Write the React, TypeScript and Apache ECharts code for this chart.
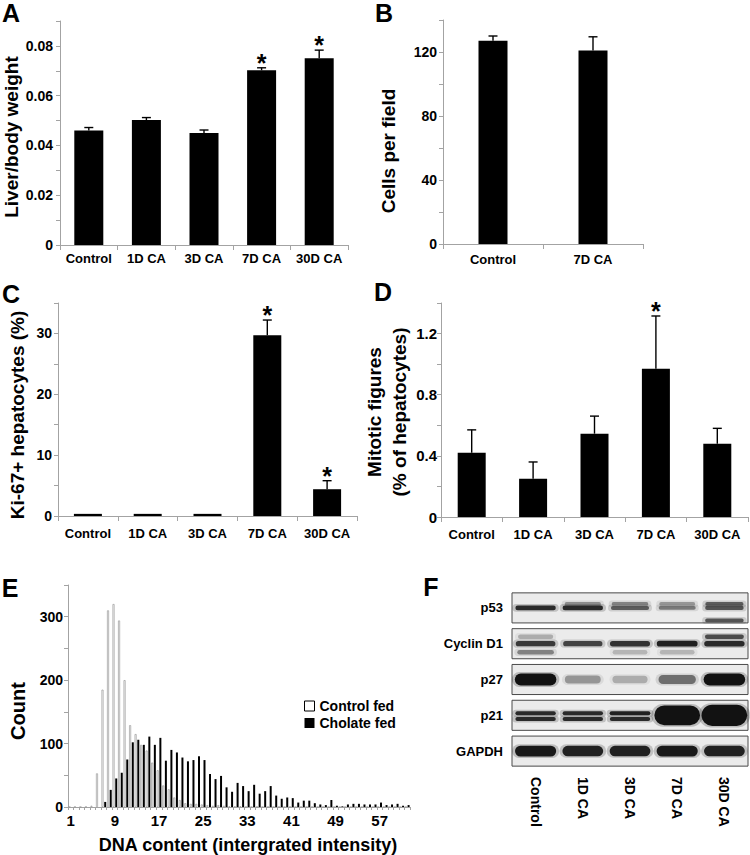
import React, { useEffect, useRef } from 'react';
import * as echarts from 'echarts';

// ---------- Panel A: liver / body weight ----------
const groupsA = ['Control', '1D CA', '3D CA', '7D CA', '30D CA'];
const liverBodyMean = [0.046, 0.0502, 0.045, 0.0702, 0.075];
const liverBodySem = [0.0012, 0.001, 0.0012, 0.001, 0.0033];
const liverBodySig = [0, 0, 0, 1, 1];

// ---------- Panel B: cells per field ----------
const groupsB = ['Control', '7D CA'];
const cellsMean = [127, 121];
const cellsSem = [3, 8.5];

// ---------- Panel C: Ki-67+ hepatocytes ----------
const ki67Mean = [0.35, 0.35, 0.35, 29.7, 4.4];
const ki67Sem = [0, 0, 0, 2.5, 1.4];
const ki67Sig = [0, 0, 0, 1, 1];

// ---------- Panel D: mitotic figures ----------
const mitoticMean = [0.42, 0.25, 0.545, 0.97, 0.48];
const mitoticSem = [0.15, 0.11, 0.115, 0.345, 0.1];
const mitoticSig = [0, 0, 0, 1, 0];

// ---------- Panel E: DNA content histogram ----------
const dnaBins = [
  '1', '2', '3', '4', '5', '6', '7', '8', '9', '10', '11', '12', '13', '14', '15', '16',
  '17', '18', '19', '20', '21', '22', '23', '24', '25', '26', '27', '28', '29', '30', '31',
  '32', '33', '34', '35', '36', '37', '38', '39', '40', '41', '42', '43', '44', '45', '46',
  '47', '48', '49', '50', '51', '52', '53', '54', '55', '56', '57', '58', '59', '60', '61', '62',
];
const controlFed = [
  0, 0, 0, 0, 2, 53, 185, 310, 320, 294, 200, 129, 115, 98, 89, 70, 58, 34, 28, 15, 11,
  6, 5, 5, 4, 3, 2, 3, 2, 1, 1, 1, 0, 0, 0, 0, 0, 0, 0, 0, 0, 0, 0, 0, 0, 0,
  0, 0, 0, 0, 0, 0, 0, 0, 0, 0, 0, 0, 0, 0, 0, 0,
];
const cholateFed = [
  0, 0, 0, 0, 0, 0, 8, 27, 45, 54, 75, 102, 106, 98, 111, 98, 109, 73, 90, 86, 78,
  72, 74, 80, 74, 52, 44, 49, 31, 24, 38, 33, 25, 35, 21, 25, 33, 18, 13, 15, 14,
  7, 10, 10, 6, 4, 3, 11, 2, 1, 4, 5, 5, 4, 4, 4, 7, 3, 4, 5, 2, 3,
];

// ---------- Panel F: western blot (relative band signal, 0..1, >1 = saturated) ----------
const blotProteins = ['p53', 'Cyclin D1', 'p27', 'p21', 'GAPDH'];
const blotLanes = ['Control', '1D CA', '3D CA', '7D CA', '30D CA'];
const bandMain = [
  [0.85, 0.85, 0.55, 0.4, 0.6],
  [0.75, 0.7, 0.8, 0.9, 0.85],
  [1.0, 0.25, 0.15, 0.45, 1.0],
  [0, 0, 0, 4.4, 4.7],
  [0.95, 0.9, 0.9, 0.95, 0.9],
];
const bandUpper = [
  [0, 0.3, 0.35, 0.25, 0.55],
  [0.15, 0, 0, 0, 0.65],
  [0, 0, 0, 0, 0],
  [0.85, 0.85, 0.9, 0, 0],
  [0, 0, 0, 0, 0],
];
const bandLower = [
  [0, 0, 0, 0, 0.6],
  [0.35, 0, 0.1, 0.1, 0],
  [0, 0, 0, 0, 0],
  [0.85, 0.85, 0.85, 0, 0],
  [0, 0, 0, 0, 0],
];

// ---------- styles ----------
const FONT = '"Liberation Sans", Arial, Helvetica, sans-serif';
const AXIS_GRAY = '#a3a3a3';
const bandBaseH = [5, 6, 12, 4.5, 11];
const bandUpperOff = [-4, -7, 0, -2, 0];
const bandLowerOff = [12.5, 8.5, 0, 3.8, 0];

function catAxis(gridIndex: number, data: string[], margin: number) {
  return {
    type: 'category',
    gridIndex,
    data,
    axisLine: { show: true, lineStyle: { color: AXIS_GRAY, width: 1 } },
    axisTick: { show: true, length: 5, lineStyle: { color: AXIS_GRAY } },
    axisLabel: {
      color: '#000', fontWeight: 'bold', fontSize: 13, fontFamily: FONT, margin, interval: 0,
    },
    splitLine: { show: false },
  };
}

function valAxis(gridIndex: number, max: number, interval: number, every: number, decimals: number, fontSize: number, margin: number) {
  return {
    type: 'value',
    gridIndex,
    min: 0,
    max,
    interval,
    axisLine: { show: true, lineStyle: { color: AXIS_GRAY, width: 1 } },
    axisTick: { show: true, length: 4, lineStyle: { color: AXIS_GRAY } },
    splitLine: { show: false },
    axisLabel: {
      color: '#000', fontWeight: 'bold', fontSize, fontFamily: FONT, margin,
      formatter: (v: number) => {
        const k = Math.round(v / interval);
        if (k % every !== 0) return '';
        return k === 0 ? '0' : (k * interval).toFixed(decimals);
      },
    },
  };
}

function barSeries(idx: number, data: number[], barWidth: number) {
  return {
    type: 'bar', xAxisIndex: idx, yAxisIndex: idx, data, barWidth,
    itemStyle: { color: '#000' }, silent: true, z: 2,
  };
}

function errSeries(idx: number, means: number[], sems: number[], sig: number[]) {
  return {
    type: 'custom', xAxisIndex: idx, yAxisIndex: idx, silent: true, z: 3,
    encode: { x: 0, y: [1, 2] },
    data: means.map((m, i) => [i, m, m + sems[i], sig[i]]),
    renderItem: (_p: any, api: any) => {
      const x = api.value(0);
      const p0 = api.coord([x, api.value(1)]);
      const p1 = api.coord([x, api.value(2)]);
      const children: any[] = [];
      if (api.value(2) > api.value(1)) {
        children.push({ type: 'line', shape: { x1: p0[0], y1: p0[1], x2: p1[0], y2: p1[1] }, style: { stroke: '#000', lineWidth: 1.4 } });
        children.push({ type: 'line', shape: { x1: p1[0] - 4.5, y1: p1[1], x2: p1[0] + 4.5, y2: p1[1] }, style: { stroke: '#000', lineWidth: 1.4 } });
      }
      if (api.value(3)) {
        children.push({
          type: 'text', x: p1[0], y: p1[1] - 5,
          style: { text: '*', fontSize: 25, fontWeight: 'bold', fontFamily: FONT, fill: '#000', align: 'center', verticalAlign: 'middle' },
        });
      }
      return { type: 'group', children };
    },
  };
}

function txt(text: string, x: number, y: number, fontSize: number, rotation = 0, align = 'center') {
  return {
    type: 'text', x, y, rotation, silent: true,
    style: { text, fontSize, fontWeight: 'bold', fontFamily: FONT, fill: '#000', align, verticalAlign: 'middle' },
  };
}

function buildOption() {
  const R = Math.PI / 2;
  const bandData: number[][] = [];
  blotProteins.forEach((_, i) => {
    blotLanes.forEach((__, j) => {
      bandData.push([j, i, bandMain[i][j], bandUpper[i][j], bandLower[i][j]]);
    });
  });

  return {
    animation: false,
    backgroundColor: '#fff',
    textStyle: { fontFamily: FONT },
    grid: [
      { left: 60, top: 21, width: 288, height: 224, containLabel: false, outerBoundsMode: 'none' },
      { left: 443, top: 20, width: 200, height: 224, containLabel: false, outerBoundsMode: 'none' },
      { left: 58, top: 303, width: 299, height: 213, containLabel: false, outerBoundsMode: 'none' },
      { left: 441, top: 303, width: 307, height: 214, containLabel: false, outerBoundsMode: 'none' },
      { left: 68, top: 585, width: 342, height: 222, containLabel: false, outerBoundsMode: 'none' },
      { left: 512, top: 590, width: 236, height: 179, containLabel: false, outerBoundsMode: 'none' },
    ],
    xAxis: [
      catAxis(0, groupsA, 7),
      catAxis(1, groupsB, 9),
      catAxis(2, groupsA, 11),
      catAxis(3, groupsA, 11),
      {
        type: 'category', gridIndex: 4, data: dnaBins,
        axisLine: { show: true, lineStyle: { color: AXIS_GRAY, width: 1 } },
        axisTick: { show: true, interval: 0, length: 3, lineStyle: { color: AXIS_GRAY } },
        axisLabel: { color: '#000', fontWeight: 'bold', fontSize: 15, fontFamily: FONT, margin: 6, interval: 7 },
        splitLine: { show: false },
      },
      {
        type: 'category', gridIndex: 5, data: blotLanes, position: 'bottom',
        axisLine: { show: false }, axisTick: { show: false }, splitLine: { show: false },
        axisLabel: { color: '#000', fontWeight: 'bold', fontSize: 14, fontFamily: FONT, margin: 8, interval: 0, rotate: -90 },
      },
    ],
    yAxis: [
      valAxis(0, 0.09, 0.01, 2, 2, 14, 7),
      valAxis(1, 140, 20, 2, 0, 14, 6),
      valAxis(2, 35, 5, 2, 0, 14, 6),
      valAxis(3, 1.4, 0.2, 2, 1, 15, 4),
      valAxis(4, 350, 50, 2, 0, 14, 5),
      {
        type: 'category', gridIndex: 5, data: blotProteins, inverse: true,
        axisLine: { show: false }, axisTick: { show: false }, splitLine: { show: false },
        axisLabel: { color: '#000', fontWeight: 'bold', fontSize: 13, fontFamily: FONT, margin: 9, interval: 0 },
      },
    ],
    legend: {
      data: [
        { name: 'Control fed', itemStyle: { color: '#fff', borderColor: '#000', borderWidth: 1 } },
        { name: 'Cholate fed', itemStyle: { color: '#000' } },
      ],
      orient: 'vertical', left: 299, top: 694, itemWidth: 10, itemHeight: 10, itemGap: 3,
      icon: 'rect', selectedMode: false,
      textStyle: { fontSize: 14, fontWeight: 'bold', fontFamily: FONT, color: '#000' },
    },
    series: [
      barSeries(0, liverBodyMean, 29),
      errSeries(0, liverBodyMean, liverBodySem, liverBodySig),
      barSeries(1, cellsMean, 29),
      errSeries(1, cellsMean, cellsSem, [0, 0]),
      barSeries(2, ki67Mean, 28),
      errSeries(2, ki67Mean, ki67Sem, ki67Sig),
      barSeries(3, mitoticMean, 28),
      errSeries(3, mitoticMean, mitoticSem, mitoticSig),
      {
        type: 'bar', name: 'Control fed', xAxisIndex: 4, yAxisIndex: 4, data: controlFed,
        barWidth: 2, barGap: '35%', silent: true,
        itemStyle: { color: '#fff', borderColor: '#9a9a9a', borderWidth: 0.7 },
      },
      {
        type: 'bar', name: 'Cholate fed', xAxisIndex: 4, yAxisIndex: 4, data: cholateFed,
        barWidth: 2, barGap: '35%', silent: true, itemStyle: { color: '#000' },
      },
      {
        type: 'custom', xAxisIndex: 5, yAxisIndex: 5, silent: true, z: 1,
        data: blotProteins.map((_, i) => [0, i]),
        renderItem: (_p: any, api: any) => {
          const c = api.coord([0, api.value(1)]);
          const sz = api.size([1, 1]);
          const laneW = Math.abs(sz[0]);
          const h = Math.abs(sz[1]) * 0.84;
          return {
            type: 'rect',
            shape: { x: c[0] - laneW / 2, y: c[1] - h / 2, width: laneW * blotLanes.length, height: h },
            style: { fill: '#ebebeb', stroke: '#4a4a4a', lineWidth: 1 },
          };
        },
      },
      {
        type: 'custom', xAxisIndex: 5, yAxisIndex: 5, silent: true, z: 2,
        data: bandData,
        renderItem: (_p: any, api: any) => {
          const j = api.value(0);
          const i = api.value(1);
          const c = api.coord([j, i]);
          const laneW = Math.abs(api.size([1, 1])[0]);
          const bands = [
            [api.value(2), 0, 0],
            [api.value(3), bandUpperOff[i], 1],
            [api.value(4), bandLowerOff[i], 2],
          ];
          const children: any[] = [];
          bands.forEach(([s, off, k]) => {
            if (!(s > 0.02)) return;
            const sat = Math.min(1, s);
            const h = k === 0
              ? bandBaseH[i] * (0.55 + 0.45 * sat) * Math.max(1, s)
              : (i === 3 ? 4 : bandBaseH[i] * 0.75);
            const w = laneW * (0.72 + 0.16 * sat) * (s > 1 ? 1.1 : 1);
            const a = 0.12 + 0.88 * sat;
            // soft halo
            children.push({
              type: 'rect',
              shape: { x: c[0] - w / 2 - 3, y: c[1] + off - h / 2 - 1.5, width: w + 6, height: h + 3, r: (h + 3) / 2 },
              style: { fill: `rgba(18,18,18,${a * 0.22})` },
            });
            children.push({
              type: 'rect',
              shape: { x: c[0] - w / 2, y: c[1] + off - h / 2, width: w, height: h, r: h / 2 },
              style: { fill: `rgba(18,18,18,${a})` },
            });
          });
          return { type: 'group', children };
        },
      },
    ],
    graphic: [
      txt('A', 11, 13, 25),
      txt('B', 384, 13, 25),
      txt('C', 11, 294, 25),
      txt('D', 383, 292, 25),
      txt('E', 10, 588, 25),
      txt('F', 431, 587, 25),
      txt('Liver/body weight', 11, 137, 19, R),
      txt('Cells per field', 388, 151, 19, R),
      txt('Ki-67+ hepatocytes (%)', 17, 415, 19, R),
      txt('Mitotic figures', 374, 412, 19, R),
      txt('(% of hepatocytes)', 399, 412, 19, R),
      txt('Count', 18, 711, 20, R),
      txt('DNA content (intergrated intensity)', 248, 845, 18),
    ],
  };
}

export default function App() {
  const ref = useRef<HTMLDivElement>(null);
  useEffect(() => {
    if (!ref.current) return;
    const chart = echarts.init(ref.current, null, { renderer: 'svg' });
    chart.setOption(buildOption() as any);
    return () => chart.dispose();
  }, []);
  return (
    <div
      ref={ref}
      style={{ position: 'fixed', left: 0, top: 0, width: 750, height: 855, background: '#fff' }}
    />
  );
}
